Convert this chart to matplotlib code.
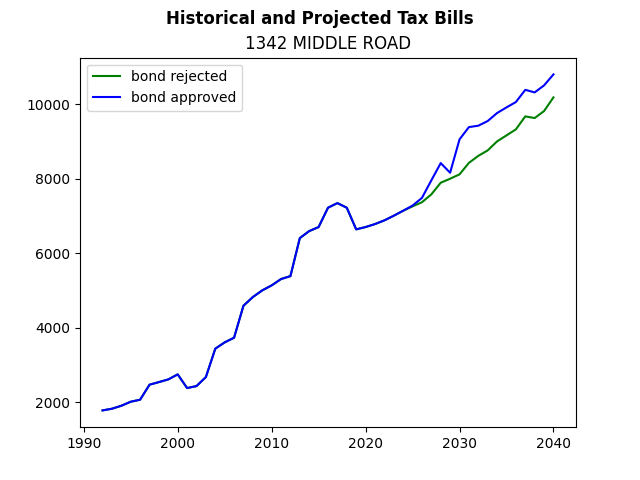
import matplotlib
matplotlib.use("Agg")
import matplotlib.pyplot as plt

years = list(range(1992, 2041))
history = [1785, 1830, 1910, 2018, 2072, 2475, 2545, 2617, 2752, 2385,
           2438, 2680, 3441, 3611, 3736, 4595, 4828, 5007, 5141, 5311,
           5390, 6411, 6599, 6707, 7226, 7350, 7226, 6645, 6707, 6787,
           6886, 7011, 7145]
rejected_proj = [7262, 7373, 7584, 7897, 8005, 8121, 8430, 8618, 8765, 9007,
                 9168, 9329, 9678, 9633, 9821, 10188]
approved_proj = [7284, 7490, 7960, 8424, 8165, 9060, 9390, 9428, 9553, 9768,
                 9919, 10063, 10390, 10322, 10510, 10805]

bond_rejected = history + rejected_proj
bond_approved = history + approved_proj

fig, ax = plt.subplots(figsize=(6.4, 4.8), dpi=100)
ax.plot(years, bond_rejected, color="green", label="bond rejected")
ax.plot(years, bond_approved, color="blue", label="bond approved")
ax.set_title("1342 MIDDLE ROAD")
fig.suptitle("Historical and Projected Tax Bills", fontweight="bold")
ax.legend(loc="upper left")
fig.savefig("out.png")
